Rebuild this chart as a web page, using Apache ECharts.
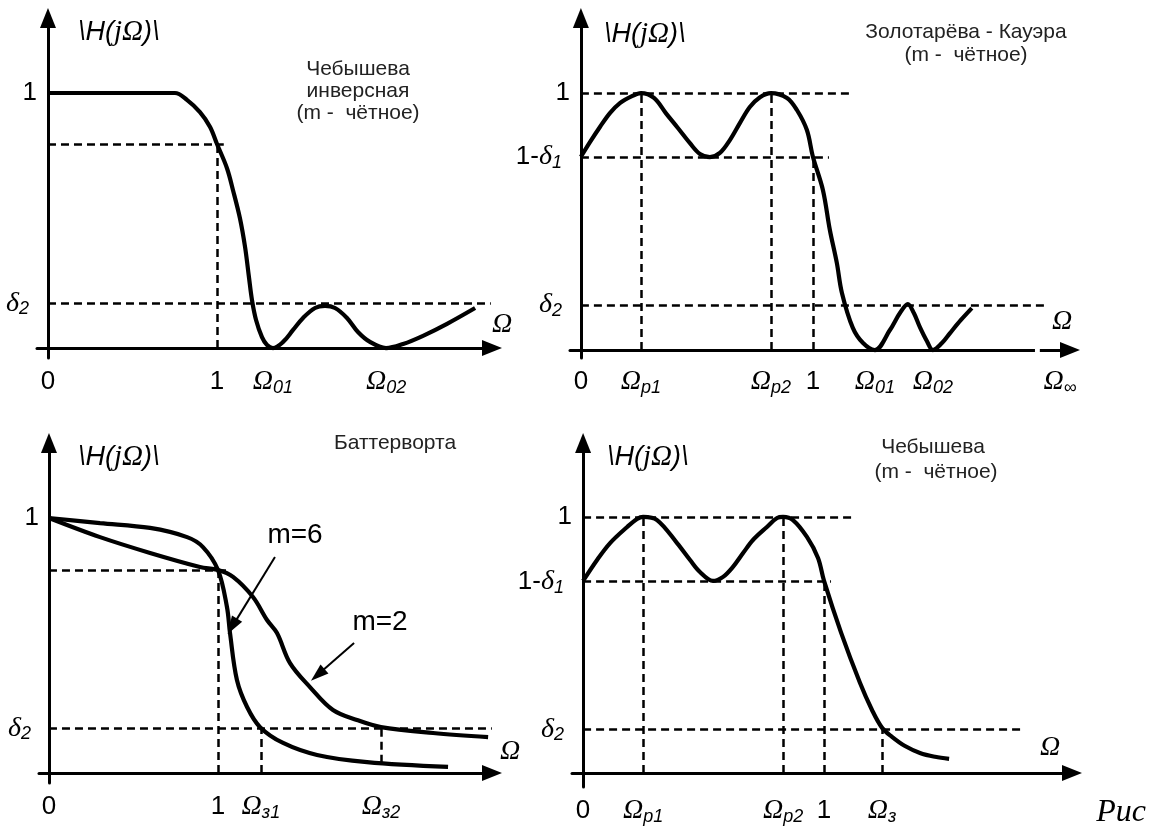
<!DOCTYPE html>
<html>
<head>
<meta charset="utf-8">
<script src="https://cdn.jsdelivr.net/npm/echarts@6/dist/echarts.min.js"></script>
<style>
html, body { margin: 0; padding: 0; background: #fff; }
#main { width: 1154px; height: 830px; }
</style>
</head>
<body>
<div id="main"></div>
<script>
// панель 1: Чебышева инверсная
var inv_x = [0, 0.4, 0.751, 0.822, 0.899, 0.959, 1.0, 1.059, 1.095, 1.136, 1.166, 1.189, 1.207, 1.231, 1.266, 1.296, 1.331,
             1.391, 1.450, 1.509, 1.580, 1.639, 1.698, 1.769, 1.834, 1.905, 2.0, 2.101, 2.219, 2.361, 2.527];
var inv_y = [1, 1, 1, 0.973, 0.925, 0.867, 0.8, 0.705, 0.618, 0.508, 0.396, 0.278, 0.188, 0.110, 0.043, 0.012, 0,
             0.024, 0.071, 0.118, 0.157, 0.165, 0.157, 0.118, 0.063, 0.024, 0, 0.016, 0.048, 0.095, 0.157];
var inv_xticks = [0, 1, 1.331, 2.0];
var inv_xlabels = ['0', '1', 'Ω01', 'Ω02'];
var inv_yticks = [0.176, 1];
var inv_ylabels = ['δ2', '1'];

// панель 2: Золотарёва - Кауэра
var zk_x = [0, 0.039, 0.082, 0.125, 0.168, 0.22, 0.259, 0.315, 0.366, 0.418, 0.47, 0.513, 0.556, 0.599, 0.642, 0.685, 0.728, 0.772, 0.819, 0.888, 0.931, 0.974, 1.0,
            1.043, 1.073, 1.103, 1.125, 1.172, 1.216, 1.267, 1.332, 1.375, 1.409, 1.435, 1.461, 1.491, 1.517, 1.556, 1.591, 1.638, 1.685];
var zk_y = [0.752, 0.809, 0.868, 0.922, 0.961, 0.988, 1.0, 0.981, 0.922, 0.864, 0.805, 0.763, 0.751, 0.767, 0.817, 0.883, 0.946, 0.984, 1.0, 0.981, 0.934, 0.856, 0.752,
            0.623, 0.467, 0.339, 0.222, 0.086, 0.027, 0, 0.078, 0.144, 0.179, 0.144, 0.089, 0.035, 0, 0.027, 0.066, 0.117, 0.163];
var zk_xticks = [0, 0.259, 0.819, 1, 1.267, 1.517, 2.065];
var zk_xlabels = ['0', 'Ωp1', 'Ωp2', '1', 'Ω01', 'Ω02', 'Ω∞'];
var zk_yticks = [0.175, 0.752, 1];
var zk_ylabels = ['δ2', '1-δ1', '1'];

// панель 3: Баттерворта
var bw6_x = [0, 0.302, 0.598, 0.817, 0.911, 1.0, 1.053, 1.071, 1.112, 1.172, 1.249, 1.385, 1.586, 1.882, 2.361];
var bw6_y = [1, 0.980, 0.961, 0.925, 0.886, 0.796, 0.651, 0.549, 0.365, 0.259, 0.180, 0.118, 0.071, 0.043, 0.024];
var bw2_x = [0, 0.302, 0.598, 0.893, 1.0, 1.089, 1.207, 1.290, 1.349, 1.426, 1.544, 1.680, 1.822, 1.964, 2.272, 2.598];
var bw2_y = [1, 0.925, 0.863, 0.808, 0.796, 0.769, 0.690, 0.600, 0.549, 0.431, 0.337, 0.247, 0.208, 0.180, 0.157, 0.141];
var bw_xticks = [0, 1, 1.254, 1.964];
var bw_xlabels = ['0', '1', 'Ωз1', 'Ωз2'];
var bw_yticks = [0.176, 1];
var bw_ylabels = ['δ2', '1'];

// панель 4: Чебышева
var ch_x = [0, 0.058, 0.112, 0.183, 0.224, 0.249, 0.307, 0.39, 0.444, 0.485, 0.539, 0.581, 0.622, 0.664, 0.705, 0.763, 0.805, 0.83, 0.871, 0.929, 0.975, 1.0,
            1.071, 1.149, 1.199, 1.241, 1.282, 1.336, 1.398, 1.461, 1.519];
var ch_y = [0.75, 0.832, 0.898, 0.961, 0.992, 1.0, 0.988, 0.898, 0.832, 0.785, 0.75, 0.766, 0.805, 0.859, 0.91, 0.961, 0.996, 1.0, 0.988, 0.922, 0.84, 0.75,
            0.547, 0.352, 0.246, 0.176, 0.141, 0.105, 0.078, 0.063, 0.055];
var ch_xticks = [0, 0.249, 0.83, 1, 1.241];
var ch_xlabels = ['0', 'Ωp1', 'Ωp2', '1', 'Ωз'];
var ch_yticks = [0.17, 0.746, 1];
var ch_ylabels = ['δ2', '1-δ1', '1'];

function zip(xs, ys){
    var out = [];
    for (var i = 0; i < xs.length; i++) out.push([xs[i], ys[i]]);
    return out;
}

var SANS = 'Liberation Sans';
var SERIF = 'Liberation Serif';

var labelRich = {
    n: {fontFamily: SANS, fontSize: 26, lineHeight: 30, color: '#000'},
    o: {fontFamily: SERIF, fontStyle: 'italic', fontSize: 28, lineHeight: 30, color: '#000'},
    s: {fontFamily: SANS, fontStyle: 'italic', fontSize: 18, lineHeight: 18, verticalAlign: 'bottom', color: '#000'},
    gap: {width: 8, fontSize: 10}
};

function markup(text, pad){
    var m = /^([0-9\-]*)([Ωδ]?)(.*)$/.exec(text);
    var s = '';
    if (m[1]) s += '{n|' + m[1] + '}';
    if (m[2]) {
        s += '{o|' + m[2] + '}';
        if (m[3]) s += '{s|' + m[3] + '}';
        if (pad) s += '{gap| }';
    } else if (m[3]) {
        s += '{n|' + m[3] + '}';
    }
    return s;
}

function lookup(vals, labels, v){
    for (var i = 0; i < vals.length; i++) {
        if (Math.abs(vals[i] - v) < 1e-9) return labels[i];
    }
    return '';
}

var axisLine = {
    onZero: true,
    symbol: ['none', 'triangle'],
    symbolSize: [16, 20],
    lineStyle: {color: '#000', width: 3}
};

function makeX(gi, min, max, vals, labels){
    return {
        type: 'value', gridIndex: gi, min: min, max: max,
        axisLine: axisLine,
        axisTick: {show: false},
        splitLine: {show: false},
        axisLabel: {
            customValues: vals, margin: 9, rich: labelRich,
            formatter: function(v){ return markup(lookup(vals, labels, v), false); }
        }
    };
}
function makeY(gi, min, max, vals, labels){
    return {
        type: 'value', gridIndex: gi, min: min, max: max,
        axisLine: axisLine,
        axisTick: {show: false},
        splitLine: {show: false},
        axisLabel: {
            customValues: vals, margin: 0, rich: labelRich,
            formatter: function(v){ return markup(lookup(vals, labels, v), true); }
        }
    };
}

var dashStyle = {color: '#000', width: 2.5, type: [8, 5]};

function seg(a, b){ return [{coord: a}, {coord: b}]; }

function curve(name, gi, data, guides){
    var s = {
        name: name, type: 'line', xAxisIndex: gi, yAxisIndex: gi,
        data: data, smooth: 0.35, symbol: 'none', silent: true,
        lineStyle: {color: '#000', width: 4.2}
    };
    if (guides) {
        s.markLine = {
            silent: true, symbol: 'none', animation: false,
            label: {show: false},
            lineStyle: dashStyle,
            emphasis: {disabled: true},
            data: guides
        };
    }
    return s;
}

var series = [
    curve('инверсная', 0, zip(inv_x, inv_y), [
        seg([0, 0.8], [1.04, 0.8]),
        seg([1, 0], [1, 0.8]),
        seg([0, 0.176], [2.62, 0.176])
    ]),
    curve('Кауэр', 1, zip(zk_x, zk_y), [
        seg([0, 1], [1.172, 1]),
        seg([0, 0.752], [1.069, 0.752]),
        seg([0, 0.175], [2.013, 0.175]),
        seg([0.259, 0], [0.259, 1]),
        seg([0.819, 0], [0.819, 1]),
        seg([1, 0], [1, 0.752])
    ]),
    curve('m=6', 2, zip(bw6_x, bw6_y), [
        seg([0, 0.796], [1.053, 0.796]),
        seg([1, 0], [1, 0.796]),
        seg([0, 0.176], [2.62, 0.176]),
        seg([1.254, 0], [1.254, 0.176]),
        seg([1.964, 0.04], [1.964, 0.176])
    ]),
    curve('m=2', 2, zip(bw2_x, bw2_y), null),
    curve('Чебышев', 3, zip(ch_x, ch_y), [
        seg([0, 1], [1.133, 1]),
        seg([0, 0.75], [1.029, 0.75]),
        seg([0, 0.17], [1.817, 0.17]),
        seg([0.249, 0], [0.249, 1]),
        seg([0.83, 0], [0.83, 1]),
        seg([1, 0], [1, 0.75]),
        seg([1.241, 0], [1.241, 0.17])
    ]),
    // стрелки-указатели m=6 / m=2
    {
        type: 'line', xAxisIndex: 2, yAxisIndex: 2, data: [], silent: true,
        markLine: {
            silent: true, animation: false, symbol: ['none', 'triangle'], symbolSize: [12, 18],
            label: {show: false},
            lineStyle: {color: '#000', width: 2, type: 'solid'},
            data: [seg([1.337, 0.847], [1.085, 0.575]), seg([1.805, 0.51], [1.59, 0.385])]
        }
    },
    // разрыв оси Ω в панели 2
    {
        type: 'line', xAxisIndex: 1, yAxisIndex: 1, data: [], silent: true, z: 5,
        markLine: {
            silent: true, animation: false, symbol: 'none',
            label: {show: false},
            lineStyle: {color: '#fff', width: 7, type: 'solid'},
            data: [seg([1.957, 0], [1.978, 0])]
        }
    }
];

function txt(x, y, text, size, opt){
    opt = opt || {};
    return {
        type: 'text', x: x, y: y, silent: true,
        style: {
            text: text,
            fontFamily: opt.family || SANS,
            fontStyle: opt.italic ? 'italic' : 'normal',
            fontSize: size,
            fill: opt.color || '#000',
            align: opt.align || 'center', textAlign: opt.align || 'center',
            verticalAlign: 'middle', textVerticalAlign: 'middle',
            rich: opt.rich
        }
    };
}

var hRich = {
    a: {fontFamily: SANS, fontStyle: 'italic', fontSize: 27, color: '#000'},
    b: {fontFamily: SERIF, fontStyle: 'italic', fontSize: 29, color: '#000'}
};
var H_TEXT = '{a|\\H(}{b|jΩ}{a|)\\}';

var graphic = [
    txt(78, 32, H_TEXT, 27, {align: 'left', rich: hRich}),
    txt(604, 34, H_TEXT, 27, {align: 'left', rich: hRich}),
    txt(78, 457, H_TEXT, 27, {align: 'left', rich: hRich}),
    txt(607, 457, H_TEXT, 27, {align: 'left', rich: hRich}),

    txt(358, 69, 'Чебышева', 21, {color: '#222'}),
    txt(358, 91, 'инверсная', 21, {color: '#222'}),
    txt(358, 113, '(m -  чётное)', 21, {color: '#222'}),
    txt(966, 32, 'Золотарёва - Кауэра', 21, {color: '#222'}),
    txt(966, 55, '(m -  чётное)', 21, {color: '#222'}),
    txt(395, 443, 'Баттерворта', 21, {color: '#222'}),
    txt(933, 447, 'Чебышева', 21, {color: '#222'}),
    txt(936, 472, '(m -  чётное)', 21, {color: '#222'}),

    txt(295, 535, 'm=6', 28),
    txt(380, 622, 'm=2', 28),

    txt(502, 325, 'Ω', 28, {family: SERIF, italic: true}),
    txt(1062, 322, 'Ω', 28, {family: SERIF, italic: true}),
    txt(510, 752, 'Ω', 28, {family: SERIF, italic: true}),
    txt(1050, 748, 'Ω', 28, {family: SERIF, italic: true}),
    txt(1121, 813, 'Рис', 32, {family: SERIF, italic: true})
];

var chart = echarts.init(document.getElementById('main'));
chart.setOption({
    animation: false,
    backgroundColor: '#fff',
    grid: [
        {left: 37, right: 662, top: 18, bottom: 472, outerBoundsMode: 'none'},
        {left: 570, right: 84, top: 18, bottom: 472, outerBoundsMode: 'none'},
        {left: 39, right: 662, top: 443, bottom: 47, outerBoundsMode: 'none'},
        {left: 572, right: 82, top: 443, bottom: 43, outerBoundsMode: 'none'}
    ],
    xAxis: [
        makeX(0, -0.065, 2.627, inv_xticks, inv_xlabels),
        makeX(1, -0.047, 2.108, zk_xticks, zk_xlabels),
        makeX(2, -0.059, 2.621, bw_xticks, bw_xlabels),
        makeX(3, -0.046, 2.029, ch_xticks, ch_xlabels)
    ],
    yAxis: [
        makeY(0, -0.039, 1.294, inv_yticks, inv_ylabels),
        makeY(1, -0.031, 1.292, zk_yticks, zk_ylabels),
        makeY(2, -0.039, 1.294, bw_yticks, bw_ylabels),
        makeY(3, -0.055, 1.289, ch_yticks, ch_ylabels)
    ],
    series: series,
    graphic: graphic
});
</script>
</body>
</html>
